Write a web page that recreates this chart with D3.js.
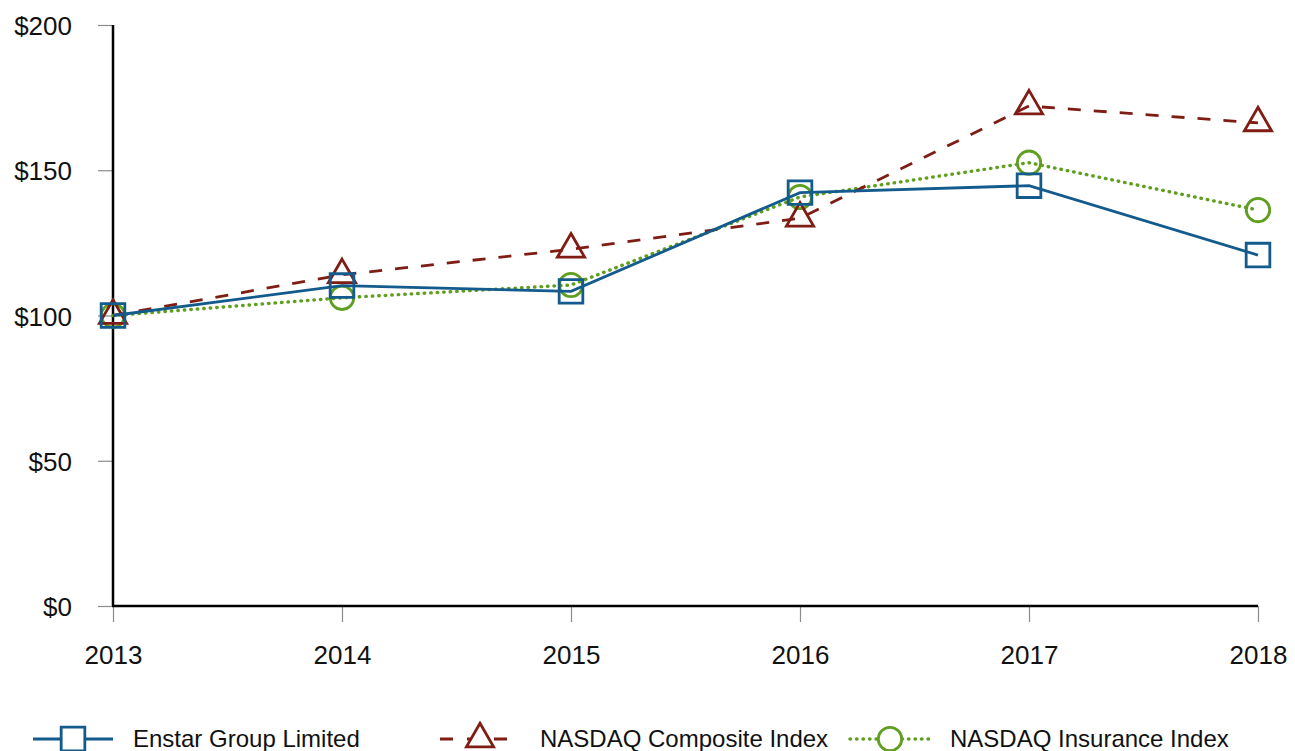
<!DOCTYPE html>
<html>
<head>
<meta charset="utf-8">
<script src="https://cdn.jsdelivr.net/npm/d3@7"></script>
<style>
  html, body { margin: 0; padding: 0; background: #fff; }
  svg { display: block; font-family: "Liberation Sans", Arial, sans-serif; }
</style>
</head>
<body>
<div id="chart"></div>
<script>
const years = ['2013', '2014', '2015', '2016', '2017', '2018'];
const enstar = [100, 110.3, 108.3, 142.3, 144.7, 120.8];
const nasdaqComposite = [100, 114, 122.8, 133.5, 172.1, 166.3];
const nasdaqInsurance = [100, 106.1, 110.5, 140.8, 152.6, 136.3];
const yTicks = [0, 50, 100, 150, 200];

const width = 1295;
const height = 751;
const margin = { top: 25, right: 37, bottom: 145, left: 113 };

const svg = d3.select('#chart')
  .append('svg')
  .attr('width', width)
  .attr('height', height);

const x = d3.scalePoint()
  .domain(years)
  .range([margin.left, width - margin.right]);

const y = d3.scaleLinear()
  .domain([0, 200])
  .range([height - margin.bottom, margin.top]);

// y axis: grey ticks to the left, labels right-aligned
const yAxis = svg.append('g')
  .attr('transform', `translate(${margin.left},0)`)
  .call(d3.axisLeft(y).tickValues(yTicks).tickSize(15).tickPadding(26)
    .tickFormat(d => '$' + d));
yAxis.select('.domain').remove();
yAxis.selectAll('.tick line').attr('stroke', '#8c8c8c').attr('stroke-width', 1.2);
yAxis.selectAll('.tick text')
  .attr('font-size', '26px')
  .attr('fill', '#111')
  .attr('dy', '0.37em');

// x axis: grey ticks downward
const xAxis = svg.append('g')
  .attr('transform', `translate(0,${y(0)})`)
  .call(d3.axisBottom(x).tickSize(16).tickPadding(24));
xAxis.select('.domain').remove();
xAxis.selectAll('.tick line').attr('stroke', '#8c8c8c').attr('stroke-width', 1.2);
xAxis.selectAll('.tick text')
  .attr('font-size', '26px')
  .attr('fill', '#111');

// black axis lines
svg.append('line')
  .attr('x1', margin.left).attr('x2', margin.left)
  .attr('y1', y(200)).attr('y2', y(0))
  .attr('stroke', '#000').attr('stroke-width', 2.5);
svg.append('line')
  .attr('x1', margin.left - 1).attr('x2', x('2018'))
  .attr('y1', y(0)).attr('y2', y(0))
  .attr('stroke', '#000').attr('stroke-width', 2.5);

const series = [
  { name: 'Enstar Group Limited', values: enstar, color: '#135b8c', dash: null, cap: 'butt', symbol: d3.symbolSquare, size: 560, legendX: 33 },
  { name: 'NASDAQ Composite Index', values: nasdaqComposite, color: '#7f1d14', dash: '13,13', cap: 'butt', symbol: d3.symbolTriangle, size: 320, legendX: 440 },
  { name: 'NASDAQ Insurance Index', values: nasdaqInsurance, color: '#5f9e1e', dash: '0.5,6', cap: 'round', symbol: d3.symbolCircle, size: 430, legendX: 850 }
];

const line = d3.line()
  .x((d, i) => x(years[i]))
  .y(d => y(d));

// draw in reverse so Enstar sits on top
[...series].reverse().forEach(s => {
  svg.append('path')
    .datum(s.values)
    .attr('d', line)
    .attr('fill', 'none')
    .attr('stroke', s.color)
    .attr('stroke-width', s.cap === 'round' ? 3.4 : 2.8)
    .attr('stroke-dasharray', s.dash)
    .attr('stroke-linecap', s.cap);

  svg.selectAll(null)
    .data(s.values)
    .enter()
    .append('path')
    .attr('d', d3.symbol().type(s.symbol).size(s.size))
    .attr('transform', (d, i) => `translate(${x(years[i])},${y(d)})`)
    .attr('fill', 'none')
    .attr('stroke', s.color)
    .attr('stroke-width', 2.8);
});

// legend
const legendY = 739;
series.forEach(s => {
  const g = svg.append('g').attr('transform', `translate(${s.legendX},${legendY})`);
  g.append('line')
    .attr('x1', 0).attr('x2', 80)
    .attr('y1', 0).attr('y2', 0)
    .attr('stroke', s.color)
    .attr('stroke-width', s.cap === 'round' ? 3.4 : 2.8)
    .attr('stroke-linecap', s.cap)
    .attr('stroke-dasharray', s.dash === '13,13' ? '13,14' : s.dash);
  g.append('path')
    .attr('d', d3.symbol().type(s.symbol).size(s.size))
    .attr('transform', 'translate(40,0)')
    .attr('fill', '#fff')
    .attr('stroke', s.color)
    .attr('stroke-width', 2.8);
  g.append('text')
    .attr('x', 100)
    .attr('y', 8)
    .attr('font-size', '24px')
    .attr('fill', '#111')
    .text(s.name);
});
</script>
</body>
</html>
